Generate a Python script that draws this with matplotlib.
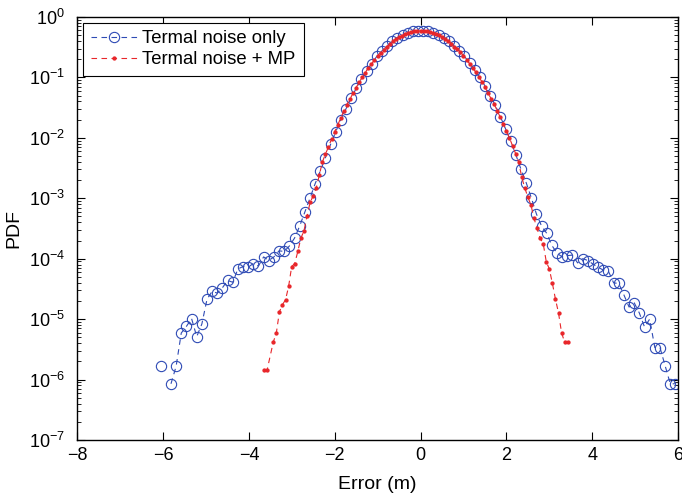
import numpy as np
import matplotlib
matplotlib.use("Agg")
import matplotlib.pyplot as plt
from matplotlib.ticker import LogLocator, FixedLocator, NullFormatter

plt.rcParams['font.family'] = ['Liberation Sans', 'DejaVu Sans']
plt.rcParams['mathtext.fontset'] = 'custom'
plt.rcParams['mathtext.rm'] = 'Liberation Sans'
plt.rcParams['mathtext.it'] = 'Liberation Sans:italic'
plt.rcParams['axes.unicode_minus'] = True

# ---- data (bin centres and log10 of PDF) ----
blue_bins = np.arange(-51, 50)
blue_x = 0.12 * blue_bins + 0.06
blue_log10_pdf = [
    -5.78, np.nan, -6.07, -5.78, -5.23, -5.12, -4.99, -5.29, -5.08, -4.67,
    -4.54, -4.57, -4.48, -4.36, -4.39, -4.17, -4.13, -4.14, -4.08, -4.12,
    -3.97, -4.03, -3.97, -3.87, -3.88, -3.79, -3.66, -3.46, -3.23, -3.00,
    -2.76, -2.55, -2.33, -2.11, -1.90, -1.70, -1.52, -1.34, -1.18, -1.03,
    -0.89, -0.77, -0.65, -0.56, -0.48, -0.40, -0.34, -0.29, -0.26, -0.24,
    -0.23,
    -0.23, -0.24, -0.27, -0.30, -0.35, -0.40, -0.48, -0.56, -0.65, -0.76,
    -0.88, -1.00, -1.14, -1.30, -1.46, -1.65, -1.85, -2.06, -2.28, -2.52,
    -2.74, -2.99, -3.26, -3.46, -3.58, -3.78, -3.91, -3.97, -3.95, -3.94,
    -4.07, -4.00, -4.03, -4.09, -4.14, -4.19, -4.21, -4.40, -4.41, -4.60,
    -4.80, -4.73, -4.90, -5.13, -5.00, -5.47, -5.47, -5.77, -6.07, -6.07,
]

red_x = np.linspace(-3.65, 3.43, 100)
red_log10_pdf = [
    -5.84, -5.84, np.nan, -5.38, -5.23, -4.88, -4.76, -4.68, -4.46, -4.13,
    -4.08, -3.88, -3.66, -3.54, -3.30, -3.07, -2.96, -2.83, -2.62, -2.40,
    -2.27, -2.15, -2.02, -1.90, -1.79, -1.67, -1.56, -1.45, -1.36, -1.26,
    -1.17, -1.08, -1.00, -0.92, -0.84, -0.78, -0.71, -0.64, -0.59, -0.54,
    -0.49, -0.45, -0.40, -0.36, -0.33, -0.31, -0.28, -0.26, -0.25, -0.24,
    -0.23, -0.23, -0.23, -0.24, -0.25, -0.26, -0.28, -0.30, -0.33, -0.36,
    -0.39, -0.44, -0.49, -0.53, -0.58, -0.64, -0.71, -0.77, -0.84, -0.91,
    -0.99, -1.07, -1.16, -1.26, -1.35, -1.44, -1.55, -1.66, -1.77, -1.89,
    -2.00, -2.13, -2.26, -2.40, -2.65, -2.83, -2.98, -3.11, -3.33, -3.50,
    -3.66, -3.75, -4.05, -4.17, -4.41, -4.67, -4.90, -5.23, -5.38, -5.38,
]

labels = ['Termal noise only', 'Termal noise + MP']
x_ticks = [-8, -6, -4, -2, 0, 2, 4, 6]
y_exponents = [0, -1, -2, -3, -4, -5, -6, -7]

blue_pdf = 10.0 ** np.array(blue_log10_pdf)
red_arr = np.array(red_log10_pdf)
red_ok = np.isfinite(red_arr)

# ---- figure ----
fig = plt.figure(figsize=(6.82, 4.98), dpi=100)
ax = fig.add_axes([0.1136, 0.1165, 0.8805, 0.8494])

blue_c = '#2f4bb5'
red_c = '#e8262a'

ax.plot(blue_x, blue_pdf, linestyle=(0, (5, 4)), color=blue_c, lw=0.8,
        marker='o', markersize=7.4, markerfacecolor='none',
        markeredgecolor=blue_c, markeredgewidth=0.8, label=labels[0])
ax.plot(red_x[red_ok], 10.0 ** red_arr[red_ok], linestyle=(0, (5, 4)),
        color=red_c, lw=0.8, marker='.', markersize=4.2,
        markerfacecolor=red_c, markeredgecolor=red_c, label=labels[1])

ax.set_yscale('log')
ax.set_xlim(-8, 6)
ax.set_ylim(1e-7, 1)

ax.xaxis.set_major_locator(FixedLocator(x_ticks))
ax.set_xticklabels([str(t).replace('-', '\u2212') for t in x_ticks])
ax.yaxis.set_major_locator(FixedLocator([10.0 ** e for e in y_exponents]))
ax.set_yticklabels([r'$10^{%d}$' % e if e == 0 else r'$10^{-%d}$' % (-e)
                    for e in y_exponents])
ax.yaxis.set_minor_locator(LogLocator(base=10, subs=np.arange(2, 10), numticks=20))
ax.yaxis.set_minor_formatter(NullFormatter())

ax.tick_params(which='both', direction='in', top=True, right=True,
               labelsize=13, colors='black')
ax.tick_params(which='major', length=5.5, width=0.8)
ax.tick_params(axis='y', which='major', pad=9)
ax.tick_params(axis='x', which='major', pad=5)
ax.tick_params(which='minor', length=2.8, width=0.6)
for s in ax.spines.values():
    s.set_linewidth(1.0)

ax.set_xlabel('Error (m)', fontsize=14, labelpad=9)
ax.set_ylabel('PDF', fontsize=14, labelpad=5)

leg = ax.legend(loc='upper left', fontsize=13.3, frameon=True, fancybox=False,
                framealpha=1, edgecolor='black', handlelength=2.5,
                borderaxespad=0.3, borderpad=0.42, labelspacing=0.22,
                handletextpad=0.3)
leg.get_frame().set_linewidth(0.8)

fig.savefig('out.png', dpi=100)
